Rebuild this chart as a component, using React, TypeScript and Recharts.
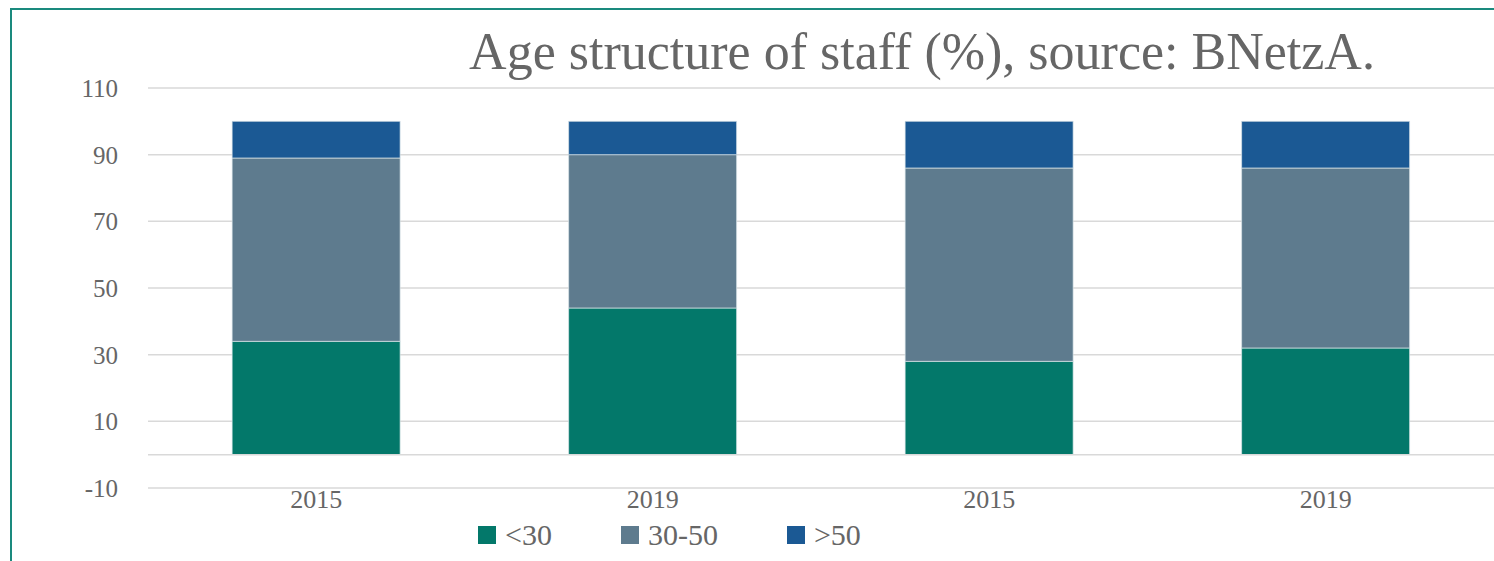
import React from 'react';
import { BarChart, Bar, XAxis, YAxis, CartesianGrid, ReferenceLine } from 'recharts';

// values in % per age group
const years = ['2015', '2019', '2015', '2019'];
const under30 = [34, 44, 28, 32];
const from30to50 = [55, 46, 58, 54];
const over50 = [11, 10, 14, 14];
const yTicks = [-10, 10, 30, 50, 70, 90, 110];

const series = [
    { key: 'under30', name: '<30', color: '#03786a' },
    { key: 'from30to50', name: '30-50', color: '#5e7b8e' },
    { key: 'over50', name: '>50', color: '#1b5994' },
];

const data = years.map((year, i) => ({
    year,
    under30: under30[i],
    from30to50: from30to50[i],
    over50: over50[i],
}));

const FONT = '"Liberation Serif", "DejaVu Serif", serif';
const TEXT = '#666666';
const GRID = '#d9d9d9';

const App: React.FC = () => {
    return (
        <div style={{ position: 'absolute', left: 0, top: 0, width: 1494, height: 561, background: '#fff', overflow: 'hidden' }}>
            <div style={{ position: 'absolute', left: 10, top: 8, right: 0, bottom: 0, borderTop: '2px solid #1a8a7e', borderLeft: '2px solid #1a8a7e' }} />
            <div style={{ position: 'absolute', left: 322, width: 1200, top: 24, textAlign: 'center', fontFamily: FONT, fontSize: 52, color: TEXT, lineHeight: '56px' }}>
                Age structure of staff (%), source: BNetzA.
            </div>
            <div style={{ position: 'absolute', left: 0, top: 0 }}>
                <BarChart width={1494} height={561} data={data} margin={{ top: 88, right: 0, bottom: 43, left: 0 }} barCategoryGap="25%">
                    <CartesianGrid vertical={false} stroke={GRID} strokeWidth={1.5} />
                    <XAxis dataKey="year" height={30} axisLine={false} tickLine={false} tickSize={0} tickMargin={2}
                        tick={{ fill: TEXT, fontFamily: FONT, fontSize: 26 }} />
                    <YAxis domain={[-10, 110]} ticks={yTicks} width={148} axisLine={false} tickLine={false} tickSize={0} tickMargin={30}
                        tick={{ fill: TEXT, fontFamily: FONT, fontSize: 25 }} />
                    <ReferenceLine y={0} stroke={GRID} strokeWidth={1.5} />
                    {series.map(s => (
                        <Bar key={s.key} dataKey={s.key} name={s.name} stackId="a" fill={s.color}
                            stroke="#dde6ea" strokeWidth={0.7} isAnimationActive={false} />
                    ))}
                </BarChart>
            </div>
            <div style={{ position: 'absolute', left: 478, top: 518, display: 'flex', fontFamily: FONT, fontSize: 30, color: TEXT, lineHeight: '34px' }}>
                {series.map(s => (
                    <div key={s.key} style={{ display: 'flex', alignItems: 'center', marginRight: 69 }}>
                        <span style={{ width: 18, height: 18, background: s.color, display: 'inline-block', marginRight: 9 }} />
                        <span>{s.name}</span>
                    </div>
                ))}
            </div>
        </div>
    );
};

export default App;
